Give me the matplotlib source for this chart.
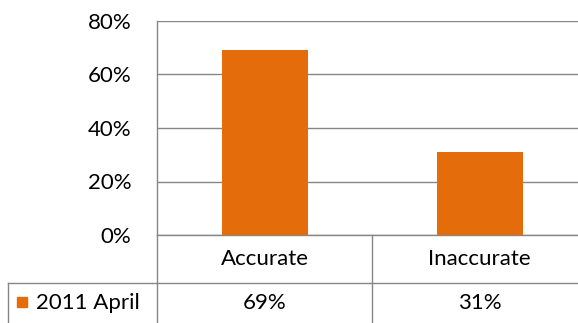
import matplotlib
matplotlib.use("Agg")
import matplotlib.pyplot as plt
from matplotlib.lines import Line2D
from matplotlib.patches import Rectangle

categories = ["Accurate", "Inaccurate"]
series_name = "2011 April"
values = [69, 31]
yticks = [0, 20, 40, 60, 80]
ytick_labels = ["0%", "20%", "40%", "60%", "80%"]

ORANGE = "#E46C0A"
GRAY = "#868686"
FONT = "Lato"
FS = 16

W, H = 578, 323
fig = plt.figure(figsize=(W / 100, H / 100), dpi=100)
left_px, right_px, top_px, bot_px = 157, 587, 21, 235
ax = fig.add_axes([left_px / W, 1 - bot_px / H, (right_px - left_px) / W, (bot_px - top_px) / H])

x = list(range(len(categories)))
ax.bar(x, values, width=0.4, color=ORANGE, zorder=3)
ax.set_xlim(-0.5, len(categories) - 0.5)
ax.set_ylim(0, 80)
ax.set_yticks(yticks)
ax.set_yticklabels(ytick_labels, fontsize=FS, family=FONT)
ax.tick_params(axis="y", length=0, pad=18.5)
ax.set_xticks([])
ax.yaxis.grid(True, color=GRAY, lw=1.0, zorder=0)
for s in ["top", "right"]:
    ax.spines[s].set_visible(False)
for s in ["left", "bottom"]:
    ax.spines[s].set_color(GRAY)
    ax.spines[s].set_linewidth(1.0)

# data table
ax_h = bot_px - top_px
row1 = -(283 - 235) / ax_h
row2 = -(340 - 235) / ax_h
leg_left = (8 - left_px) / (right_px - left_px) * len(categories) - 0.5
trans = ax.get_xaxis_transform()
lkw = dict(color=GRAY, lw=1.0, clip_on=False, transform=trans)
ax.add_line(Line2D([-0.5, -0.5], [0, row2], **lkw))
for i in range(len(categories)):
    xb = i + 0.5
    ax.add_line(Line2D([xb, xb], [0, row2], **lkw))
ax.add_line(Line2D([leg_left, len(categories) - 0.5], [row1, row1], **lkw))
ax.add_line(Line2D([leg_left, leg_left], [row1, row2], **lkw))

val_y = -(303 - 235) / ax_h
for i, (c, v) in enumerate(zip(categories, values)):
    ax.text(i, row1 / 2, c, ha="center", va="center", fontsize=FS, family=FONT, transform=trans, clip_on=False)
    ax.text(i, val_y, f"{v}%", ha="center", va="center", fontsize=FS, family=FONT, transform=trans, clip_on=False)

# legend key in table
fig.patches.append(Rectangle((17 / W, 1 - 307 / H), 10 / W, 10 / H, color=ORANGE, transform=fig.transFigure))
fig.text(36 / W, 1 - 303 / H, series_name, ha="left", va="center", fontsize=FS, family=FONT)

fig.savefig("out.png", dpi=100)
